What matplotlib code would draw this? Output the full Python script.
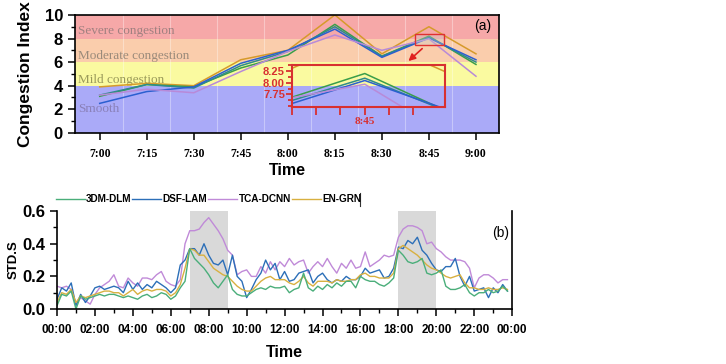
import numpy as np
import matplotlib
matplotlib.use("Agg")
import matplotlib.pyplot as plt
from matplotlib.patches import Rectangle
from matplotlib.lines import Line2D
from matplotlib.ticker import MultipleLocator, FixedLocator

plt.rcParams['font.family'] = ['Liberation Sans', 'DejaVu Sans']
NARROW = ['Liberation Sans Narrow', 'Liberation Sans', 'DejaVu Sans']
SERIF = ['Liberation Serif', 'DejaVu Serif']

# ---------------- Panel (a) data ----------------
time_labels_a = ["7:00", "7:15", "7:30", "7:45", "8:00", "8:15", "8:30", "8:45", "9:00"]
a_orange = [3.9, 4.2, 4.0, 6.2, 7.0, 10.0, 6.7, 9.0, 6.7]
a_green = [3.1, 4.1, 3.9, 5.5, 6.6, 9.2, 6.5, 8.2, 5.8]
a_teal = [3.2, 4.1, 3.8, 5.7, 6.9, 9.0, 6.5, 8.1, 6.0]
a_blue = [2.5, 3.5, 3.9, 5.9, 7.0, 8.8, 6.4, 8.05, 6.2]
a_purple = [3.2, 3.7, 3.4, 5.2, 6.9, 8.3, 7.0, 7.97, 4.8]
band_edges = [0, 4, 6, 8, 10]
band_names = ["Smooth", "Mild congestion", "Moderate congestion", "Severe congestion"]
band_label_y = [2.0, 4.5, 6.5, 8.6]

# ---------------- Panel (b) data (15-min steps) ----------------
hours_b = np.arange(96) * 0.25
tca_dcnn = [0.14, 0.13, 0.14, 0.12, 0.03, 0.07, 0.05, 0.03, 0.09, 0.13, 0.15, 0.17,
            0.21, 0.14, 0.13, 0.19, 0.16, 0.14, 0.19, 0.19, 0.18, 0.21, 0.23, 0.17,
            0.15, 0.14, 0.18, 0.40, 0.48, 0.48, 0.49, 0.53, 0.56, 0.52, 0.48, 0.43,
            0.36, 0.33, 0.21, 0.23, 0.24, 0.20, 0.20, 0.26, 0.22, 0.29, 0.24, 0.29,
            0.26, 0.31, 0.27, 0.29, 0.30, 0.22, 0.26, 0.29, 0.26, 0.31, 0.26, 0.22,
            0.28, 0.25, 0.30, 0.25, 0.26, 0.35, 0.26, 0.28, 0.30, 0.33, 0.32, 0.33,
            0.44, 0.49, 0.51, 0.51, 0.50, 0.48, 0.40, 0.41, 0.37, 0.35, 0.32, 0.30,
            0.30, 0.30, 0.29, 0.25, 0.13, 0.19, 0.21, 0.21, 0.19, 0.16, 0.18, 0.18]
dsf_lam = [0.06, 0.13, 0.11, 0.16, 0.02, 0.09, 0.04, 0.08, 0.13, 0.14, 0.12, 0.13,
           0.14, 0.13, 0.10, 0.17, 0.12, 0.16, 0.12, 0.15, 0.13, 0.17, 0.15, 0.13,
           0.10, 0.13, 0.27, 0.30, 0.37, 0.37, 0.33, 0.40, 0.33, 0.28, 0.27, 0.30,
           0.21, 0.33, 0.20, 0.17, 0.07, 0.12, 0.18, 0.22, 0.30, 0.24, 0.28, 0.18,
           0.23, 0.17, 0.18, 0.22, 0.23, 0.24, 0.16, 0.20, 0.22, 0.18, 0.16, 0.18,
           0.17, 0.20, 0.18, 0.18, 0.20, 0.25, 0.22, 0.23, 0.24, 0.19, 0.20, 0.25,
           0.38, 0.37, 0.42, 0.40, 0.44, 0.36, 0.33, 0.28, 0.24, 0.23, 0.26, 0.26,
           0.31, 0.20, 0.14, 0.20, 0.11, 0.12, 0.13, 0.07, 0.13, 0.10, 0.15, 0.11]
en_grn = [0.04, 0.10, 0.09, 0.12, 0.04, 0.08, 0.07, 0.08, 0.09, 0.10, 0.11, 0.11,
          0.10, 0.10, 0.08, 0.10, 0.12, 0.09, 0.11, 0.12, 0.11, 0.12, 0.12, 0.11,
          0.08, 0.10, 0.15, 0.25, 0.37, 0.36, 0.33, 0.33, 0.29, 0.25, 0.23, 0.21,
          0.20, 0.17, 0.14, 0.12, 0.11, 0.11, 0.14, 0.17, 0.19, 0.20, 0.18, 0.18,
          0.18, 0.16, 0.15, 0.17, 0.20, 0.16, 0.14, 0.17, 0.17, 0.17, 0.16, 0.18,
          0.17, 0.17, 0.18, 0.18, 0.21, 0.22, 0.20, 0.20, 0.19, 0.19, 0.19, 0.22,
          0.37, 0.39, 0.37, 0.35, 0.33, 0.30, 0.27, 0.25, 0.24, 0.22, 0.20, 0.19,
          0.20, 0.21, 0.16, 0.13, 0.13, 0.12, 0.12, 0.13, 0.12, 0.12, 0.13, 0.12]
dm_dlm = [0.02, 0.09, 0.08, 0.11, 0.00, 0.08, 0.06, 0.07, 0.08, 0.09, 0.08, 0.09,
          0.09, 0.08, 0.07, 0.08, 0.07, 0.06, 0.08, 0.09, 0.07, 0.08, 0.10, 0.09,
          0.06, 0.08, 0.13, 0.17, 0.37, 0.31, 0.28, 0.25, 0.21, 0.16, 0.13, 0.17,
          0.21, 0.12, 0.09, 0.08, 0.08, 0.10, 0.12, 0.13, 0.12, 0.14, 0.13, 0.13,
          0.14, 0.10, 0.12, 0.13, 0.22, 0.13, 0.11, 0.14, 0.12, 0.15, 0.13, 0.16,
          0.14, 0.17, 0.17, 0.13, 0.20, 0.18, 0.17, 0.17, 0.15, 0.14, 0.16, 0.19,
          0.36, 0.33, 0.29, 0.28, 0.29, 0.31, 0.22, 0.21, 0.22, 0.24, 0.14, 0.12,
          0.12, 0.13, 0.15, 0.10, 0.08, 0.10, 0.10, 0.12, 0.10, 0.11, 0.14, 0.11]
series_b_names = ["3DM-DLM", "DSF-LAM", "TCA-DCNN", "EN-GRN"]
peak_windows = [(7, 9), (18, 20)]
tick_labels_b = ["00:00", "02:00", "04:00", "06:00", "08:00", "10:00", "12:00",
                 "14:00", "16:00", "18:00", "20:00", "22:00", "00:00"]

# ---------------- Figure ----------------
fig = plt.figure(figsize=(7.26, 3.64), dpi=100)

# ---- Panel (a)
axA = fig.add_axes([0.103, 0.635, 0.585, 0.324])
band_colors = ["#aaaaf8", "#fafaa0", "#facdac", "#f6a8a8"]
band_text_colors = ["#8a80b8", "#9a9a5a", "#9a8a7a", "#a08080"]
for i in range(4):
    axA.axhspan(band_edges[i], band_edges[i + 1], color=band_colors[i], lw=0, zorder=0)
    axA.text(0.008, band_label_y[i], band_names[i], transform=axA.get_yaxis_transform(),
             ha='left', va='center', family=SERIF, fontsize=9.5,
             color=band_text_colors[i], zorder=1)
xa = np.arange(len(time_labels_a))
for xv in xa[:-1] + 0.5:
    axA.axvline(xv, color='white', alpha=0.35, lw=0.8, zorder=0.5)

colors_a = ["#d69a2a", "#3a9e4a", "#2e8b8b", "#2b5fd0", "#b88ad8"]
data_a = [a_orange, a_green, a_teal, a_blue, a_purple]
for d, c in zip(data_a, colors_a):
    axA.plot(xa, d, color=c, lw=1.1, zorder=2)

axA.set_xlim(-0.53, 8.5)
axA.set_ylim(0, 10)
axA.set_xticks(xa)
axA.set_xticklabels(time_labels_a, family=SERIF, fontweight='bold', fontsize=8.5)
axA.set_yticks([0, 2, 4, 6, 8, 10])
axA.yaxis.set_minor_locator(MultipleLocator(1))
for lab in axA.get_yticklabels():
    lab.set_fontweight('bold')
    lab.set_fontsize(12)
axA.tick_params(axis='both', direction='out', length=5, width=1.1)
axA.tick_params(axis='x', pad=6)
axA.tick_params(axis='y', which='minor', direction='out', length=3, width=1.0)
axA.set_ylabel("Congestion Index", fontweight='bold', fontsize=12.5, labelpad=8)
axA.set_xlabel("Time", fontweight='bold', fontsize=11.5, labelpad=2)
for s in axA.spines.values():
    s.set_linewidth(1.2)
axA.text(0.96, 0.91, "(a)", transform=axA.transAxes, ha='center', va='center', fontsize=10)

# zoom rectangle and arrow
x0, x1, y0, y1 = 6.7, 7.33, 7.48, 8.38
axA.add_patch(Rectangle((x0, y0), x1 - x0, y1 - y0, facecolor='#c8c8c8', alpha=0.35,
                        edgecolor='none', zorder=3))
axA.add_patch(Rectangle((x0, y0), x1 - x0, y1 - y0, facecolor='none',
                        edgecolor='#e03030', lw=1.0, zorder=3))
axA.annotate("", xy=(6.52, 5.93), xytext=(6.9, 7.3),
             arrowprops=dict(arrowstyle='-|>', color='#e02020', lw=1.2, mutation_scale=10),
             zorder=4)

# inset
axI = fig.add_axes([0.402, 0.706, 0.211, 0.115])
axI.set_facecolor('none')
for d, c in zip(data_a, colors_a):
    axI.plot(xa, d, color=c, lw=1.1)
axI.set_xlim(x0, x1)
axI.set_ylim(y0, y1)
for s in axI.spines.values():
    s.set_color('#d83030')
    s.set_linewidth(1.5)
axI.xaxis.set_major_locator(FixedLocator([6.7, 6.8, 6.9, 7.0, 7.1, 7.2]))
axI.set_xticklabels(["", "", "", "8:45", "", ""], family=SERIF, fontweight='bold',
                    fontsize=8, color='#d83030')
axI.set_yticks([7.75, 8.0, 8.25])
axI.set_yticklabels(["7.75", "8.00", "8.25"], fontweight='bold', fontsize=8,
                    color='#d83030')
axI.yaxis.set_minor_locator(MultipleLocator(0.125))
axI.tick_params(axis='both', which='both', colors='#d83030', width=1.3, direction='out')
axI.tick_params(axis='x', length=6, pad=1)
axI.tick_params(axis='y', length=4, pad=1)
axI.tick_params(axis='y', which='minor', length=3)

# ---- Panel (b)
axB = fig.add_axes([0.0785, 0.151, 0.627, 0.269])
for a, b in peak_windows:
    axB.axvspan(a, b, color='#d9d9d9', lw=0, zorder=0)
colors_b = ["#4aae7a", "#2c6fb8", "#c08ad8", "#d8b040"]
data_b = [dm_dlm, dsf_lam, tca_dcnn, en_grn]
order = [2, 1, 3, 0]
lines = {}
for i in order:
    ln, = axB.plot(hours_b, data_b[i], color=colors_b[i], lw=1.0, label=series_b_names[i])
    lines[i] = ln
axB.set_xlim(0, 24)
axB.set_ylim(0, 0.6)
axB.set_xticks(np.arange(0, 25, 2))
axB.set_xticklabels(tick_labels_b, family=NARROW, fontweight='bold', fontsize=8.5)
axB.xaxis.set_minor_locator(MultipleLocator(1))
axB.set_yticks([0.0, 0.2, 0.4, 0.6])
axB.set_yticklabels(["0.0", "0.2", "0.4", "0.6"], fontweight='bold', fontsize=12)
axB.yaxis.set_minor_locator(MultipleLocator(0.1))
axB.tick_params(axis='both', direction='out', length=5, width=1.1)
axB.tick_params(axis='both', which='minor', direction='out', length=3, width=1.0)
axB.tick_params(axis='x', pad=6)
axB.spines['top'].set_visible(False)
for s in ['left', 'bottom', 'right']:
    axB.spines[s].set_linewidth(1.2)
axB.set_ylabel("STD.S", fontweight='bold', fontsize=9.5, labelpad=2)
axB.set_xlabel("Time", fontweight='bold', fontsize=11.5, labelpad=6)
axB.text(0.975, 0.78, "(b)", transform=axB.transAxes, ha='center', va='center', fontsize=10)

leg = fig.legend([lines[i] for i in range(4)], series_b_names, ncol=4,
                 loc='center left', bbox_to_anchor=(0.074, 0.453), frameon=False,
                 handlelength=2.9, handletextpad=0.12, columnspacing=0.1,
                 borderpad=0.1, borderaxespad=0.1,
                 prop={'family': NARROW, 'weight': 'bold', 'size': 7.2})
fig.canvas.draw()
bb = leg.get_window_extent().transformed(fig.transFigure.inverted())
xr = bb.x1 - 0.002
fig.add_artist(Line2D([xr, xr], [0.433, 0.47], color='#333333', lw=0.8))

fig.savefig("out.png", dpi=100)
